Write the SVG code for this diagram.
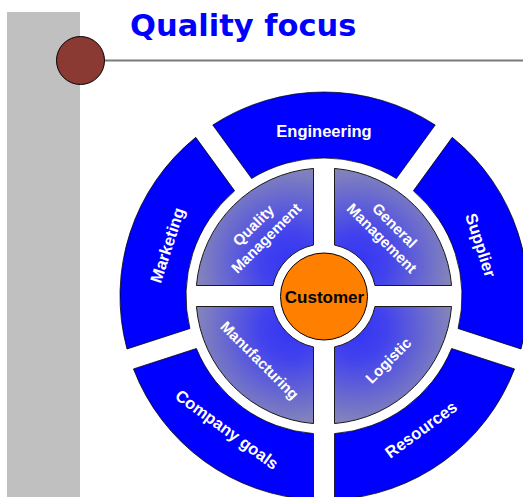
<svg xmlns="http://www.w3.org/2000/svg" width="523" height="497" viewBox="0 0 523 497">
<style>
.seg{fill:#0000FF;stroke:#000;stroke-width:0.7}
.quad{fill:url(#qg);stroke:#1a1a1a;stroke-width:1}
.ol{font-family:"Liberation Sans",Arial,sans-serif;font-weight:bold;font-size:16.5px;fill:#fff;text-anchor:middle}
.il{font-family:"Liberation Sans",Arial,sans-serif;font-weight:bold;font-size:15px;fill:#fff;text-anchor:middle}
</style>
<defs>
<radialGradient id="qg" gradientUnits="userSpaceOnUse" cx="291" cy="263" r="100">
<stop offset="0" stop-color="#3434F4"/>
<stop offset="0.3" stop-color="#4242EE"/>
<stop offset="1" stop-color="#8A8AB6"/>
</radialGradient>
<path id="segp" d="M 212.74 125.01 A 204 204 0 0 1 435.26 125.01 L 396.39 178.51 A 138 138 0 0 0 251.61 178.51 Z"/>
<path id="quadp" d="M 313.5 168.43 L 313.5 245.07 A 52 52 0 0 0 273.07 285.5 L 196.43 285.5 A 128 128 0 0 1 313.5 168.43 Z"/>
</defs>
<rect x="0" y="0" width="523" height="497" fill="#fff"/>
<g id="header">
<rect x="7" y="12" width="73" height="485" fill="#C0C0C0"/>
<line x1="104" y1="60.5" x2="523" y2="60.5" stroke="#7a7a7a" stroke-width="2"/>
<circle cx="80.5" cy="60.5" r="24" fill="#8B3A33" stroke="#000" stroke-width="1"/>
<text x="130" y="36" font-family="'DejaVu Sans',Verdana,sans-serif" font-weight="bold" font-size="30.5" fill="#0000FF">Quality focus</text>
</g>
<g id="engineering">
<use href="#segp" class="seg"/>
<text class="ol" x="324" y="137">Engineering</text>
</g>
<g id="supplier" transform="rotate(72 324 296)">
<use href="#segp" class="seg"/>
<text class="ol" x="324" y="137">Supplier</text>
</g>
<g id="resources" transform="rotate(144 324 296)">
<use href="#segp" class="seg"/>
<text class="ol" x="324" y="137" transform="rotate(180 324 131.1)">Resources</text>
</g>
<g id="company-goals" transform="rotate(216 324 296)">
<use href="#segp" class="seg"/>
<text class="ol" x="324" y="137" transform="rotate(180 324 131.1)">Company goals</text>
</g>
<g id="marketing" transform="rotate(288 324 296)">
<use href="#segp" class="seg"/>
<text class="ol" x="324" y="137">Marketing</text>
</g>
<g id="quality-management">
<use href="#quadp" class="quad"/>
<g transform="rotate(-45 324 296)">
<text class="il" x="324" y="201.4">Quality</text>
<text class="il" x="324" y="219.4">Management</text>
</g>
</g>
<g id="general-management" transform="rotate(90 324 296)">
<use href="#quadp" class="quad"/>
<g transform="rotate(-45 324 296)">
<text class="il" x="324" y="201.4">General</text>
<text class="il" x="324" y="219.4">Management</text>
</g>
</g>
<g id="logistic" transform="rotate(180 324 296)">
<use href="#quadp" class="quad"/>
<g transform="rotate(-45 324 296)">
<text class="il" x="324" y="210.4" transform="rotate(180 324 205)">Logistic</text>
</g>
</g>
<g id="manufacturing" transform="rotate(270 324 296)">
<use href="#quadp" class="quad"/>
<g transform="rotate(-45 324 296)">
<text class="il" x="324" y="208.9" font-size="12.5" transform="rotate(180 324 204.4)">Manufacturing</text>
</g>
</g>
<g id="customer">
<circle cx="324" cy="296.5" r="43.5" fill="#FF8000" stroke="#000" stroke-width="1"/>
<text x="324.5" y="302.5" font-family="'Liberation Sans',Arial,sans-serif" font-weight="bold" font-size="17" fill="#000" text-anchor="middle">Customer</text>
</g>
</svg>
